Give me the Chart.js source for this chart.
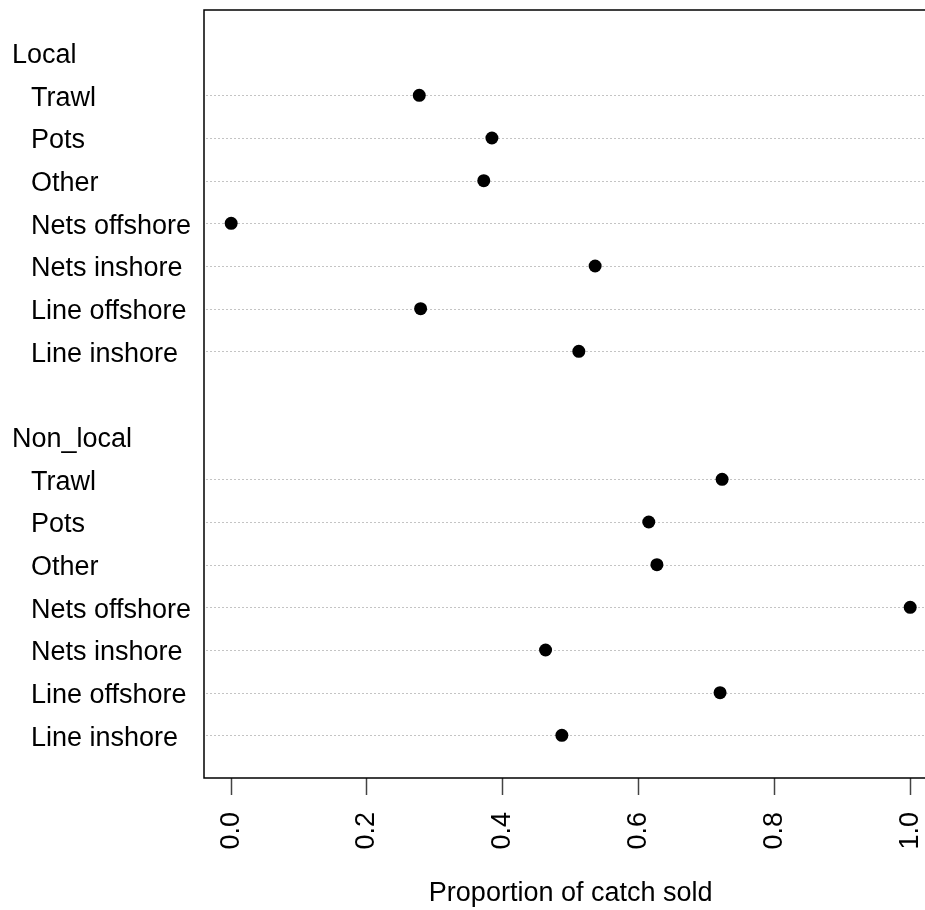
<!DOCTYPE html>
<html>
<head>
<meta charset="utf-8">
<script src="https://cdn.jsdelivr.net/npm/chart.js@4"></script>
<style>
  html, body { margin: 0; padding: 0; background: #fff; overflow: hidden; }
</style>
</head>
<body>
<canvas id="dotChart" width="925" height="910"></canvas>
<script>
// data
const groups = ["Local", "Non_local"];
const methods = ["Trawl", "Pots", "Other", "Nets offshore", "Nets inshore", "Line offshore", "Line inshore"];
const localValues = [0.277, 0.384, 0.372, 0.0, 0.536, 0.279, 0.512];
const nonLocalValues = [0.723, 0.615, 0.627, 1.0, 0.463, 0.720, 0.487];
const xTicks = [0.0, 0.2, 0.4, 0.6, 0.8, 1.0];
const xTitle = "Proportion of catch sold";

const FONT = "'Liberation Sans', Arial, sans-serif";
const FONT_SIZE = 27;

// dotchart layout: last group at the bottom, each group gets a header row and a blank row
const groupValues = [localValues, nonLocalValues];
const rows = [];     // {label, pos, header}
const points = [];
let pos = 0;
for (let g = groups.length - 1; g >= 0; g--) {
  for (let i = methods.length - 1; i >= 0; i--) {
    pos += 1;
    rows.push({ label: methods[i], pos: pos, header: false });
    points.push({ x: groupValues[g][i], y: pos });
  }
  pos += 1;
  rows.push({ label: groups[g], pos: pos, header: true });
  pos += 1;
}
const yMax = pos; // 18

const dotPlugin = {
  id: "dotPlugin",
  beforeDatasetsDraw(chart) {
    const ctx = chart.ctx;
    const area = chart.chartArea;
    const y = chart.scales.y;
    ctx.save();
    ctx.strokeStyle = "#c4c4c4";
    ctx.lineWidth = 1;
    ctx.setLineDash([2, 2]);
    rows.filter(r => !r.header).forEach(r => {
      const py = Math.round(y.getPixelForValue(r.pos)) + 0.5;
      ctx.beginPath();
      ctx.moveTo(area.left + 2, py);
      ctx.lineTo(area.right, py);
      ctx.stroke();
    });
    ctx.restore();
  },
  afterDraw(chart) {
    const ctx = chart.ctx;
    const area = chart.chartArea;
    const x = chart.scales.x;
    const y = chart.scales.y;
    ctx.save();
    // frame (the right side falls outside the picture)
    ctx.strokeStyle = "#000";
    ctx.lineWidth = 1.5;
    ctx.beginPath();
    ctx.moveTo(area.right + 5, area.top);
    ctx.lineTo(area.left, area.top);
    ctx.lineTo(area.left, area.bottom);
    ctx.lineTo(area.right + 5, area.bottom);
    ctx.stroke();
    // row labels
    ctx.fillStyle = "#000";
    ctx.font = FONT_SIZE + "px " + FONT;
    ctx.textAlign = "left";
    ctx.textBaseline = "middle";
    rows.forEach(r => {
      const py = y.getPixelForValue(r.pos) + 3;
      ctx.fillText(r.label, r.header ? 12 : 31, py);
    });
    // axis title, centred on the full x range
    ctx.textAlign = "center";
    ctx.fillText(xTitle, x.getPixelForValue(0.5), 894);
    ctx.restore();
  }
};

const ctx = document.getElementById("dotChart").getContext("2d");
const myChart = new Chart(ctx, {
  type: "scatter",
  data: {
    datasets: [{
      data: points,
      backgroundColor: "#000",
      borderColor: "#000",
      pointRadius: 6.5,
      pointHoverRadius: 6.5,
      borderWidth: 0
    }]
  },
  options: {
    responsive: false,
    animation: false,
    events: [],
    layout: { autoPadding: false, padding: { top: 10, right: 0, left: 0, bottom: 0 } },
    plugins: { legend: { display: false }, tooltip: { enabled: false } },
    scales: {
      x: {
        type: "linear",
        min: -0.04,
        max: 1.0218, // R extends to 1.04, the picture is cut at the right edge
        afterBuildTicks: (scale) => { scale.ticks = xTicks.map(v => ({ value: v })); },
        afterFit: (scale) => {
          scale.height = 132;
          scale.paddingLeft = 0;
          scale.paddingRight = 0;
        },
        grid: {
          drawOnChartArea: false,
          drawTicks: true,
          tickLength: 17,
          tickColor: "#444",
          tickWidth: 1.5
        },
        border: { display: false },
        ticks: {
          minRotation: 90,
          maxRotation: 90,
          padding: 17,
          color: "#000",
          font: { family: FONT, size: FONT_SIZE },
          callback: (v) => Number(v).toFixed(1)
        }
      },
      y: {
        type: "linear",
        min: 0,
        max: yMax,
        afterFit: (scale) => {
          scale.width = 204;
          scale.paddingTop = 0;
          scale.paddingBottom = 0;
        },
        grid: { display: false },
        border: { display: false },
        ticks: { display: false }
      }
    }
  },
  plugins: [dotPlugin]
});
</script>
</body>
</html>
